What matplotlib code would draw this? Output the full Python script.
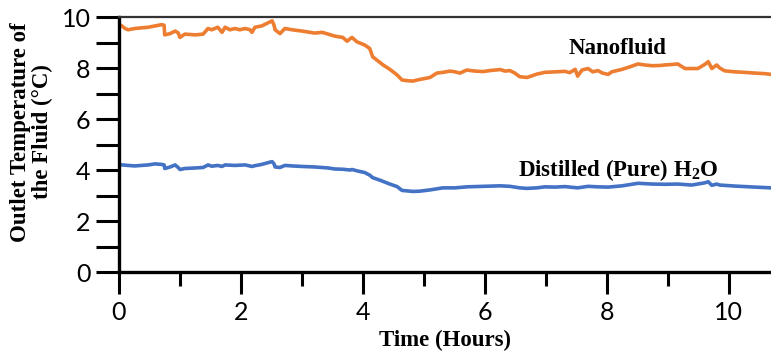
import matplotlib
matplotlib.use("Agg")
import matplotlib.pyplot as plt
from matplotlib.ticker import MultipleLocator

matplotlib.rcParams['mathtext.fontset'] = 'custom'
matplotlib.rcParams['mathtext.rm'] = 'Liberation Serif:bold'
matplotlib.rcParams['mathtext.bf'] = 'Liberation Serif:bold'

# time in hours, outlet temperature in degC
nano_t = [0.00, 0.05, 0.10, 0.15, 0.26, 0.48, 0.59, 0.70, 0.74, 0.75, 0.84, 0.92, 0.97,
          1.00, 1.08, 1.25, 1.38, 1.46, 1.52, 1.62, 1.69, 1.74, 1.82, 1.90, 1.98, 2.07,
          2.15, 2.18, 2.23, 2.34, 2.51, 2.54, 2.56, 2.64, 2.72, 2.84, 3.00, 3.13, 3.21,
          3.33, 3.43, 3.54, 3.67, 3.74, 3.79, 3.82, 3.90, 4.03, 4.11, 4.16, 4.33, 4.44,
          4.56, 4.64, 4.74, 4.82, 4.93, 5.10, 5.21, 5.31, 5.43, 5.51, 5.59, 5.70, 5.84,
          5.97, 6.08, 6.25, 6.33, 6.41, 6.49, 6.57, 6.69, 6.85, 6.98, 7.15, 7.31, 7.39,
          7.48, 7.52, 7.59, 7.69, 7.77, 7.85, 7.93, 8.02, 8.08, 8.25, 8.38, 8.51, 8.62,
          8.74, 8.87, 8.95, 9.07, 9.16, 9.28, 9.39, 9.49, 9.61, 9.66, 9.72, 9.80, 9.85,
          9.93, 10.10, 10.26, 10.43, 10.59, 10.69]
nano_T = [9.70, 9.65, 9.55, 9.50, 9.55, 9.60, 9.65, 9.70, 9.68, 9.30, 9.35, 9.45, 9.38,
          9.20, 9.33, 9.30, 9.33, 9.55, 9.50, 9.60, 9.40, 9.60, 9.50, 9.55, 9.50, 9.55,
          9.50, 9.40, 9.60, 9.65, 9.85, 9.70, 9.50, 9.35, 9.55, 9.50, 9.45, 9.40, 9.37,
          9.40, 9.33, 9.25, 9.20, 9.05, 9.15, 9.20, 9.03, 8.90, 8.77, 8.44, 8.12, 7.95,
          7.73, 7.53, 7.50, 7.49, 7.55, 7.63, 7.80, 7.83, 7.88, 7.85, 7.80, 7.92, 7.88,
          7.86, 7.90, 7.94, 7.88, 7.90, 7.80, 7.66, 7.63, 7.76, 7.83, 7.85, 7.87, 7.82,
          7.95, 7.68, 7.92, 7.98, 7.85, 7.90, 7.80, 7.75, 7.85, 7.95, 8.05, 8.16, 8.12,
          8.09, 8.10, 8.12, 8.14, 8.16, 7.98, 7.98, 7.98, 8.15, 8.25, 7.98, 8.12, 8.00,
          7.89, 7.85, 7.83, 7.80, 7.78, 7.75]

water_t = [0.00, 0.05, 0.15, 0.26, 0.48, 0.59, 0.70, 0.74, 0.75, 0.84, 0.92, 0.97, 1.00,
           1.08, 1.25, 1.38, 1.46, 1.52, 1.62, 1.69, 1.74, 1.90, 2.07, 2.18, 2.23, 2.34,
           2.51, 2.54, 2.56, 2.64, 2.72, 2.84, 3.00, 3.21, 3.43, 3.54, 3.67, 3.79, 3.82,
           3.90, 4.03, 4.11, 4.16, 4.28, 4.44, 4.56, 4.64, 4.82, 4.93, 5.10, 5.31, 5.51,
           5.70, 5.97, 6.25, 6.41, 6.57, 6.69, 6.85, 6.98, 7.15, 7.31, 7.52, 7.69, 7.85,
           8.02, 8.25, 8.51, 8.74, 8.95, 9.16, 9.39, 9.61, 9.66, 9.72, 9.80, 9.85, 10.10,
           10.43, 10.69]
water_T = [4.22, 4.20, 4.18, 4.16, 4.20, 4.24, 4.22, 4.20, 4.06, 4.12, 4.20, 4.10, 4.02,
           4.06, 4.08, 4.10, 4.20, 4.15, 4.18, 4.14, 4.20, 4.18, 4.20, 4.14, 4.17, 4.22,
           4.33, 4.25, 4.12, 4.10, 4.18, 4.16, 4.14, 4.12, 4.08, 4.04, 4.03, 4.00, 4.02,
           3.97, 3.90, 3.80, 3.70, 3.60, 3.45, 3.35, 3.20, 3.16, 3.17, 3.22, 3.30, 3.30,
           3.34, 3.36, 3.38, 3.36, 3.30, 3.28, 3.30, 3.34, 3.33, 3.35, 3.30, 3.36, 3.34,
           3.33, 3.38, 3.48, 3.45, 3.44, 3.45, 3.41, 3.50, 3.54, 3.40, 3.45, 3.41, 3.37,
           3.33, 3.30]

fig = plt.figure(figsize=(7.71, 3.54), dpi=100)
ax = fig.add_axes([0.1543, 0.2316, 0.8457, 0.7203])

ax.plot(nano_t, nano_T, color='#ED7D31', lw=2.6, solid_joinstyle='round')
ax.plot(water_t, water_T, color='#4472C4', lw=2.6, solid_joinstyle='round')

ax.set_xlim(0, 10.69)
ax.set_ylim(0, 10)
ax.xaxis.set_major_locator(MultipleLocator(2))
ax.xaxis.set_minor_locator(MultipleLocator(1))
ax.yaxis.set_major_locator(MultipleLocator(2))
ax.yaxis.set_minor_locator(MultipleLocator(1))

ax.tick_params(axis='y', which='both', direction='out', length=16.5, width=2.2, pad=4)
ax.tick_params(axis='x', which='major', direction='out', length=16, width=2.2, pad=5)
ax.tick_params(axis='x', which='minor', direction='out', length=10, width=2.2)
for lab in ax.get_xticklabels() + ax.get_yticklabels():
    lab.set_fontfamily('Lato')
    lab.set_fontsize(18)

ax.spines['right'].set_visible(False)
ax.spines['left'].set_linewidth(2.4)
ax.spines['bottom'].set_linewidth(2.4)
ax.spines['top'].set_linewidth(1.6)
ax.spines['top'].set_color('#333333')

serif = dict(fontfamily='Liberation Serif', fontweight='bold', fontsize=16.5)
ax.set_xlabel('Time (Hours)', labelpad=4, **serif)
fig.text(0.041, 1 - 132 / 354, 'Outlet Temperature of\nthe Fluid (\u00b0C)', rotation=90,
         ha='center', va='center', linespacing=1.1, **serif)

ax.text(8.18, 8.78, 'Nanofluid', ha='center', va='center', **serif)
ax.text(8.18, 4.0, r'Distilled (Pure) H$_\mathrm{2}$O', ha='center', va='center', **serif)

fig.savefig('out.png', dpi=100)
